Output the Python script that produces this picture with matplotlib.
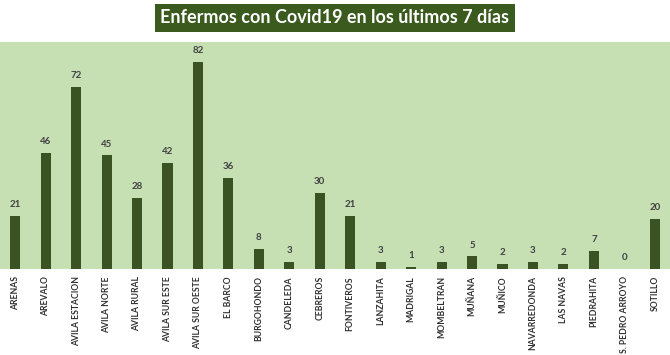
"""Enfermos con Covid19 en los ultimos 7 dias - bar chart."""

import matplotlib

matplotlib.use("Agg")
import matplotlib.pyplot as plt
import numpy as np

municipios = [
    "ARENAS", "AREVALO", "AVILA ESTACION", "AVILA NORTE", "AVILA RURAL",
    "AVILA SUR ESTE", "AVILA SUR OESTE", "EL BARCO", "BURGOHONDO", "CANDELEDA",
    "CEBREROS", "FONTIVEROS", "LANZAHITA", "MADRIGAL", "MOMBELTRAN", "MUÑANA",
    "MUÑICO", "NAVARREDONDA", "LAS NAVAS", "PIEDRAHITA", "S. PEDRO ARROYO",
    "SOTILLO",
]
enfermos = [21, 46, 72, 45, 28, 42, 82, 36, 8, 3, 30, 21, 3, 1, 3, 5, 2, 3, 2, 7, 0, 20]

titulo = "Enfermos con Covid19 en los últimos 7 días"

BAR_COLOR = "#3b5323"
BG_COLOR = "#c6e0b4"
FONT = ["Lato", "DejaVu Sans"]

fig = plt.figure(figsize=(6.7, 3.55), dpi=100)
ax = fig.add_axes([0.0, 0.242, 1.0, 0.640])
ax.set_facecolor(BG_COLOR)

x = np.arange(len(municipios))
bars = ax.bar(x, enfermos, width=0.33, color=BAR_COLOR)
for rect, val in zip(bars, enfermos):
    ax.annotate(
        str(val),
        (rect.get_x() + rect.get_width() / 2, rect.get_height()),
        xytext=(0, 5),
        textcoords="offset points",
        ha="center",
        va="bottom",
        fontsize=7,
        fontweight="bold",
        color="#404040",
        family=FONT,
    )

ax.set_xlim(-0.5, len(municipios) - 0.5)
ax.set_ylim(0, 90)
ax.set_yticks([])
ax.set_xticks(x)
ax.set_xticklabels(municipios, rotation=90, fontsize=6.2, fontweight="bold", color="#303030", family=FONT)
ax.tick_params(axis="x", length=0, pad=5)
for spine in ax.spines.values():
    spine.set_visible(False)

fig.text(
    0.5,
    0.95,
    titulo,
    ha="center",
    va="center",
    fontsize=13,
    fontweight="bold",
    color="white",
    family=FONT,
    bbox=dict(boxstyle="square,pad=0.3", facecolor="#3a5a1e", edgecolor="none"),
)

fig.savefig("out.png", dpi=100)
